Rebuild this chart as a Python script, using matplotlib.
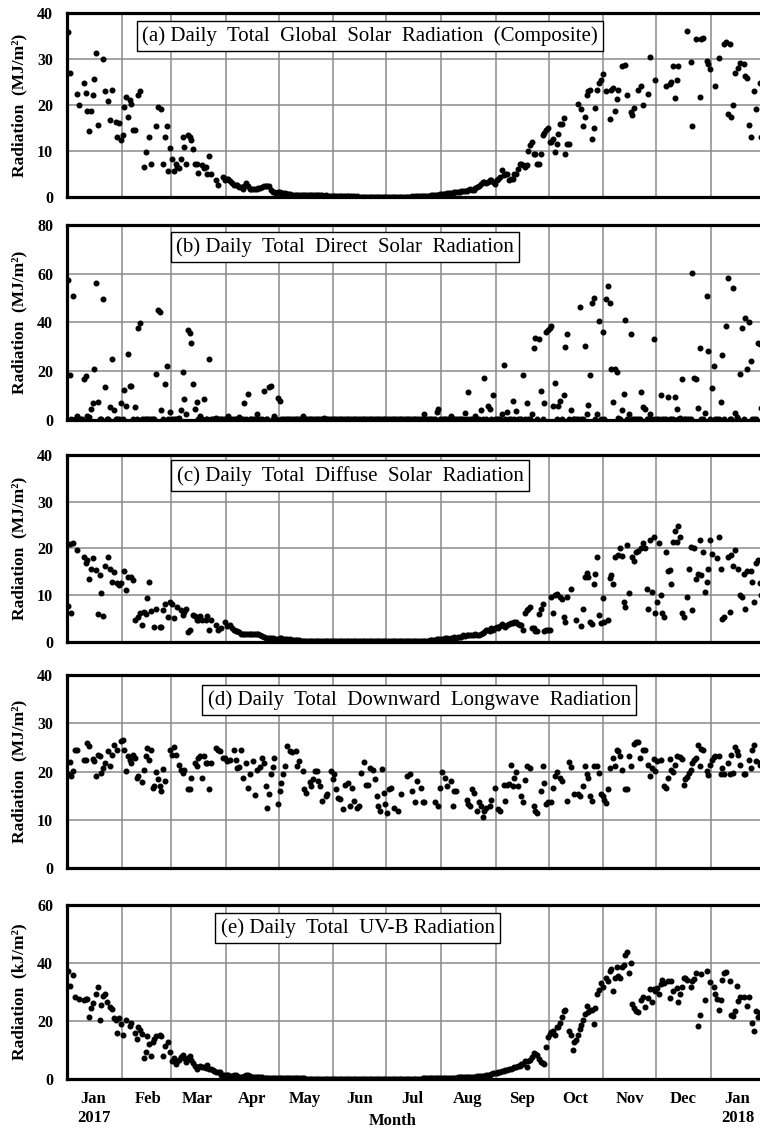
import numpy as np
import pandas as pd
import matplotlib
matplotlib.use("Agg")
import matplotlib.pyplot as plt
import matplotlib.dates as mdates
from matplotlib.ticker import FuncFormatter, MultipleLocator, NullFormatter

nan = np.nan
start_day = "2017-01-01"

# daily totals from 1 Jan 2017, one row (or two) per month; nan = no reading

# (a) global solar radiation, MJ/m2
global_rad = [
    35.9, 27.0, nan, nan, nan, 22.3, 20.0, nan, nan, 24.8, 22.6, 18.8, 14.3, 18.8, 22.1, 25.6,
    31.4, 15.7, nan, nan, 29.9, 23.0, nan, 20.8, 16.7, 23.2, nan, 16.3, 13.0, 16.1, 12.3,
    13.4, 19.6, 21.7, 17.5, 21.0, 20.3, 14.6, 14.6, nan, 22.1, 23.0, nan, 6.5, 9.8,
    nan, 13.0, 7.1, nan, nan, 15.4, 19.6, nan, 19.1, 7.2, 13.0, 15.4, 5.6, 10.7,
    8.3, 5.6, 7.1, 6.5, 6.2, 8.3, 13.0, 10.9, 7.2, 13.4, 13.0, 12.5, 10.5, 7.2, 7.2, 5.2,
    nan, 6.9, 6.2, 6.5, 5.0, 9.0, 5.0, nan, nan, 3.6, 2.7, nan, nan, 4.3, 3.6,
    4.0, 4.0, 3.4, 3.0, 2.7, 2.7, 2.7, 2.2, 2.2, 1.8, 2.5, 3.0, 2.4, 1.8, 1.8,
    1.8, 1.8, 1.7, 2.0, 1.9, 2.1, 2.3, 2.3, 2.3, 2.3, 1.5, 1.1, 1.0, 0.9, 1.1,
    1.1, 0.9, 0.8, 0.9, 0.7, 0.6, 0.6, 0.5, 0.5, 0.5, 0.5, 0.4, 0.5, 0.5, 0.5, 0.4,
    0.5, 0.5, 0.4, 0.4, 0.5, 0.4, 0.4, 0.4, 0.4, 0.3, 0.4, 0.3, 0.3, 0.3, 0.3,
    0.3, 0.3, 0.3, 0.2, 0.3, 0.2, 0.2, 0.2, 0.2, 0.2, 0.2, 0.2, 0.1, 0.2, 0.1,
    0.1, 0.1, 0.1, 0.1, 0.1, 0.1, 0.1, 0.1, 0.1, 0.1, 0.1, 0.1, 0.1, 0.1, 0.1,
    0.1, 0.1, 0.1, 0.1, 0.1, 0.1, 0.1, 0.1, 0.1, 0.1, 0.1, 0.1, 0.1, 0.1, 0.2, 0.1,
    0.2, 0.2, 0.2, 0.2, 0.3, 0.2, 0.3, 0.3, 0.3, 0.4, 0.4, 0.4, 0.5, 0.5, 0.6,
    0.6, 0.7, 0.7, 0.8, 0.8, 0.9, 0.9, 1.0, 1.0, 1.1, 1.1, 1.2, 1.3, 1.3, 1.4, 1.6,
    1.8, 1.6, 1.6, 2.0, 2.2, 2.5, 2.8, 3.3, 3.3, 3.0, 3.2, 3.6, 3.6, 3.3, 2.9,
    3.6, 4.0, 4.3, 5.8, 4.7, 5.1, 5.1, 3.6, 4.0, 4.0, 5.1, 5.1, 6.0, 7.2, 7.2,
    6.9, 6.5, 7.0, 10.0, 11.2, 12.0, 9.4, 9.4, 7.2, 7.2, 9.4, 13.4, 13.9, 14.5, 14.9,
    12.0, 12.0, 12.7, 9.8, 11.6, 13.6, 15.9, 15.9, 17.2, 9.4, 11.6, 11.6, nan, nan, nan, nan,
    20.3, nan, 19.2, 15.4, 17.5, 22.2, 23.0, 23.2, 12.7, 15.1, 19.3, 23.3, 24.8, 25.5, 26.7,
    nan, 23.0, nan, 17.0, 23.3, 23.6, 18.8, 21.2, 23.2, nan, 28.4, nan, 28.6, 22.1, nan,
    18.5, 17.8, 19.4, nan, 23.2, nan, 24.1, 19.9, nan, nan, 22.3, 30.4, nan, nan, 25.4,
    nan, nan, nan, nan, nan, 24.1, nan, 24.6, 25.0, 28.4, 21.5, 25.4, 28.4, nan, nan, nan,
    nan, 36.1, nan, 29.3, 15.4, nan, 34.4, nan, 21.7, 34.4, 34.6, nan, 29.6, 29.0, 27.9,
    nan, nan, 24.1, nan, 30.3, nan, nan, 33.3, 33.7, 18.1, 33.2, 17.5, 19.9, 27.0, nan, 28.1,
    29.1, nan, 29.0, 26.2, 25.9, 15.6, 13.0, nan, 23.0, 19.2, nan, 24.8, 13.0, nan, nan,
]

# (b) direct solar radiation, MJ/m2
direct_rad = [
    57.4, 18.6, 0.5, 51.0, 0.5, 1.6, 0.5, 0.3, 0.5, 17.0, 18.0, 1.6, 1.2, 4.5, 6.8, 20.8,
    56.2, 7.2, 0.5, 0.3, 49.7, 13.6, 0.5, 0.3, 5.2, 24.8, 4.0, 0.3, 0.5, 0.3, 6.8,
    0.3, 12.2, 5.7, 26.9, 13.9, 14.0, 0.4, 5.4, 0.3, 37.8, 39.9, 0.3, 0.2, 0.3,
    0.3, 0.2, 0.3, 0.3, 0.2, 19.0, 45.3, 44.2, 4.0, 0.3, 14.7, 22.0, 0.5, 3.4,
    0.5, 0.3, 0.5, 0.3, 1.0, 4.0, 19.7, 8.4, 2.4, 36.7, 35.6, 31.6, 14.7, 4.5, 7.3, 0.5,
    1.6, 0.3, 8.4, 0.3, 0.3, 24.8, 0.3, 0.2, 0.3, 0.7, 0.3, 0.2, 0.3, 0.2, 0.3,
    0.3, 1.6, 0.3, 0.2, 0.3, 0.2, 0.3, 1.4, 0.3, 0.2, 6.8, 0.3, 10.6, 0.2, 0.3,
    0.2, 0.3, 2.4, 0.3, 0.2, 0.2, 11.8, 0.3, 0.2, 13.6, 14.0, 0.3, 1.6, 0.3, 8.8,
    7.9, 0.3, 0.2, 0.3, 0.2, 0.3, 0.2, 0.2, 0.3, 0.2, 0.2, 0.3, 0.2, 1.6, 0.2, 0.3,
    0.2, 0.2, 0.3, 0.2, 0.2, 0.3, 0.2, 0.2, 0.3, 0.8, 0.2, 0.2, 0.3, 0.2, 0.2,
    0.2, 0.3, 0.2, 0.2, 0.3, 0.2, 0.2, 0.3, 0.2, 0.2, 0.3, 0.2, 0.2, 0.3, 0.2,
    0.2, 0.3, 0.2, 0.2, 0.3, 0.2, 0.2, 0.3, 0.2, 0.2, 0.3, 0.2, 0.2, 0.3, 0.2,
    0.2, 0.3, 0.2, 0.2, 0.3, 0.2, 0.2, 0.3, 0.2, 0.2, 0.3, 0.2, 0.2, 0.3, 0.2, 0.2,
    0.3, 0.2, 0.2, 0.3, 0.2, 2.3, 0.3, 0.2, 0.3, 0.2, 0.5, 0.3, 3.4, 4.4, 0.3,
    0.3, 0.5, 0.3, 0.2, 0.5, 1.6, 0.3, 0.5, 0.3, 0.2, 0.5, 0.3, 0.5, 3.0, 0.3, 11.3,
    0.5, 0.3, 0.5, 1.8, 0.3, 0.5, 4.1, 0.3, 17.4, 0.5, 5.9, 4.5, 0.3, 10.2, 0.5,
    0.3, 0.5, 0.3, 2.4, 22.4, 0.5, 3.1, 0.3, 0.5, 7.9, 0.3, 3.5, 0.3, 0.5, 0.3,
    18.6, 0.3, 6.8, 0.3, 0.5, 2.3, 29.5, 33.7, 0.3, 33.3, 11.8, 0.3, 6.8, 36.0, 36.7,
    37.7, 38.5, 5.7, 15.2, 0.5, 5.9, 7.9, 0.3, 10.2, 29.9, 35.4, 0.3, 4.1, 0.3, 0.5, 0.3,
    0.3, 46.3, 0.5, 0.3, 30.3, 2.4, 6.1, 18.6, 47.9, 50.1, 0.3, 2.4, 40.5, 0.5, 36.0,
    0.3, 49.7, 55.1, 47.9, 21.1, 7.2, 20.7, 19.7, 0.7, 0.5, 4.1, 10.6, 41.1, 0.3, 2.4,
    35.4, 0.3, 0.5, 0.3, 0.3, 0.5, 11.3, 5.2, 4.5, 0.3, 0.5, 2.4, 0.3, 33.3, 0.3,
    0.5, 0.3, 10.2, 0.3, 0.5, 0.3, 9.5, 0.3, 0.5, 0.3, 9.5, 4.4, 0.3, 0.7, 17.0, 0.3,
    0.5, 0.3, 0.3, 0.5, 60.3, 17.3, 17.0, 5.0, 29.5, 0.3, 0.5, 3.0, 50.7, 28.2, 0.3,
    12.9, 22.0, 0.3, 0.5, 0.3, 7.2, 26.5, 0.3, 38.4, 58.1, 0.3, 0.5, 54.1, 3.0, 1.4, 0.3,
    19.0, 37.8, 0.3, 41.9, 20.7, 40.1, 24.2, 0.3, 0.5, 0.3, 31.6, 31.0, 5.0, 0.3, 0.5,
]

# (c) diffuse solar radiation, MJ/m2
diffuse_rad = [
    7.6, 20.9, 6.3, 21.1, nan, 19.6, nan, nan, nan, 18.2, 16.9, 17.5, 13.4, 15.7, 17.9, nan,
    15.5, 5.9, 14.3, 10.4, 5.5, 16.2, nan, 18.1, 15.7, 12.9, 15.0, nan, 12.6, 12.1, 12.6,
    nan, 15.2, 11.1, 13.9, nan, 13.9, 13.2, 4.6, nan, 5.4, 6.1, 3.7, 6.4, 5.9,
    9.3, 12.9, 6.6, nan, 3.1, 7.1, nan, 3.1, 3.1, 6.8, 8.2, nan, 5.4, 8.6,
    8.2, 5.2, nan, 7.5, nan, 6.8, 5.7, 6.4, 7.1, 2.1, 2.5, nan, 5.7, 5.5, 4.8, 4.6,
    5.5, 4.8, nan, 4.6, 5.5, 2.5, 4.6, nan, nan, 3.6, 2.5, nan, 2.9, nan, 4.3,
    3.4, nan, 3.6, 3.0, 2.6, 2.4, 2.4, 2.1, 1.8, 1.8, 1.8, 1.7, 1.8, 1.7, 1.6,
    1.8, 1.7, 1.6, 1.8, 1.5, 1.2, 1.0, 0.9, 0.9, 0.8, 0.8, 0.8, 0.7, 0.7, 0.7,
    0.9, 0.8, 0.7, 0.6, 0.6, 0.5, 0.6, 0.5, 0.4, 0.5, 0.4, 0.4, 0.3, 0.3, 0.3, 0.3,
    0.2, 0.2, 0.2, 0.2, 0.2, 0.2, 0.2, 0.2, 0.2, 0.1, 0.1, 0.1, 0.1, 0.1, 0.1,
    0.1, 0.1, 0.1, 0.1, 0.1, 0.1, 0.1, 0.1, 0.1, 0.1, 0.1, 0.1, 0.1, 0.1, 0.1,
    0.1, 0.1, 0.1, 0.1, 0.1, 0.1, 0.1, 0.1, 0.1, 0.1, 0.1, 0.1, 0.1, 0.1, 0.1,
    0.1, 0.1, 0.1, 0.1, 0.1, 0.1, 0.1, 0.1, 0.1, 0.1, 0.1, 0.1, 0.1, 0.1, 0.1, 0.1,
    0.1, 0.1, 0.1, 0.1, 0.2, 0.2, 0.3, 0.3, 0.4, 0.4, 0.5, 0.5, 0.6, 0.7, 0.7,
    0.7, 0.7, 0.8, 0.8, 0.7, 0.9, 0.8, 1.0, 0.9, 1.0, 1.1, 1.0, 1.4, 1.3, 1.4, 1.5,
    1.4, 1.5, 1.4, 1.6, 1.5, 1.4, 1.8, 2.0, 2.2, 2.5, 2.5, 2.4, 2.9, 2.6, 3.0,
    3.2, 3.0, 3.5, 3.8, 3.5, 3.2, 3.6, 3.9, 4.0, 4.1, 4.2, 4.3, 3.8, 3.6, 3.6,
    2.5, 6.1, 6.8, 7.0, 7.5, 2.9, 2.9, 2.4, 2.4, 5.9, 7.1, 8.2, 2.4, 2.5, 2.5,
    2.5, 9.6, 6.1, 10.0, 10.2, nan, 9.6, 9.1, 5.4, 4.3, 9.6, nan, 11.4, nan, nan, 4.6,
    nan, nan, 3.4, 7.1, 13.9, 14.8, 13.9, 4.3, 3.8, 12.5, 14.6, 18.2, 5.7, 4.1, 9.3,
    4.3, nan, 4.6, 13.6, 14.3, 12.4, 18.2, nan, 18.6, 20.0, 18.4, 8.6, 7.5, 20.7, 10.4,
    nan, 18.2, 17.4, 19.3, 19.5, nan, 20.0, 21.1, 20.0, 11.4, 7.1, 21.9, 10.7, 22.5, 6.2,
    8.6, 21.1, 10.0, 6.1, 5.4, 19.3, 15.2, 15.5, 12.4, 21.4, 23.8, 21.4, 24.9, 22.5, 6.1, 5.4,
    nan, 9.6, 15.7, 20.4, 6.9, 20.0, 13.4, 14.6, 21.8, 14.3, 19.3, 10.7, 12.9, 15.7, 21.8,
    18.9, nan, nan, 17.9, 22.4, 15.6, 5.0, 5.4, nan, 18.2, 6.4, 18.6, 16.2, 19.6, nan, 15.7,
    10.0, 9.6, 14.6, 7.1, 15.1, nan, 15.2, 12.9, 8.6, 16.8, 17.5, 12.7, 10.0, 13.0, 12.0,
]

# (d) downward longwave radiation, MJ/m2
longwave_rad = [
    19.4, 21.9, 19.0, 20.2, 24.5, 24.4, nan, nan, nan, 22.5, 22.5, 26.0, 25.3, nan, 22.6, 22.1,
    19.0, 23.5, 23.3, 19.7, 20.8, 21.8, nan, 24.2, 21.1, 23.4, 25.5, nan, 24.4, nan, 26.4,
    26.6, 24.5, 20.2, 23.2, 22.5, 21.8, 23.5, 22.8, 18.7, 19.0, nan, 17.8, 20.3, 23.3,
    24.9, 22.5, 24.5, 16.6, 17.1, 19.9, 18.4, 17.0, 16.0, 20.5, 18.0, nan, nan, 24.5,
    23.5, 25.1, 23.5, nan, 21.4, 20.4, 19.7, 20.4, nan, 16.3, 16.4, 18.7, nan, 21.8, 21.1, 22.8,
    23.2, 18.7, 23.2, 21.8, 21.8, 16.3, 21.8, nan, nan, 24.9, 24.4, 24.2, nan, 22.8, 22.8,
    22.1, nan, 22.3, nan, 24.4, 22.5, 20.8, 21.0, 24.5, 18.7, nan, 21.8, 16.6, 19.4, nan,
    22.1, 15.1, 20.4, nan, 21.0, 22.8, 21.8, 17.1, 12.5, 15.3, 19.4, 21.0, 22.8, nan, 13.2,
    16.0, 17.7, 19.4, 21.2, 25.3, nan, 24.2, 24.0, nan, 24.2, 21.2, 22.1, nan, 20.1, 16.3, 15.6,
    nan, 17.8, 17.1, 18.5, 20.1, 20.1, 18.0, 17.0, 13.9, nan, 14.9, 15.3, nan, 20.1, 18.4,
    19.4, 16.3, 14.6, 14.4, nan, 12.2, 17.3, nan, 17.7, 12.9, 16.6, 13.9, nan, 12.5, 12.9,
    19.7, nan, 21.9, 17.3, 17.3, 20.8, nan, 20.4, 18.4, 14.9, 12.9, 11.8, 20.5, 15.6, 13.2,
    11.5, 16.3, 16.6, nan, 12.5, nan, 11.8, nan, 15.3, nan, nan, 19.0, nan, 19.4, 16.0, nan,
    13.6, 18.0, nan, 16.6, 13.6, 13.7, nan, nan, nan, nan, nan, 13.7, nan, 12.9, 16.6,
    19.9, nan, 18.7, 17.0, nan, 18.0, 12.9, 16.0, 16.0, nan, nan, nan, nan, nan, 14.2, 13.2,
    12.9, 16.3, 15.6, nan, 11.8, 13.6, 12.9, 10.5, 11.8, 12.5, nan, 12.9, 14.2, nan, 16.6,
    nan, 12.2, 11.8, nan, 17.3, 13.9, 17.3, 17.5, 21.4, 17.1, 18.7, 19.9, 17.1, nan, 14.9,
    13.7, 18.2, 21.1, nan, 20.8, nan, 12.9, 11.8, 11.4, nan, 16.0, 21.1, 17.7, 13.2, 13.6,
    nan, 13.6, 16.6, 19.0, 19.9, nan, 18.7, 18.0, nan, nan, 13.9, 21.9, 21.0, nan, 15.4, nan,
    15.4, 14.9, nan, 17.0, 21.2, 19.4, 18.7, 14.9, 13.9, 21.1, nan, 21.2, 19.7, 15.3, 14.9,
    14.2, 13.4, 16.4, 20.8, nan, 22.8, 21.2, 24.5, 24.2, 23.2, 20.4, nan, 16.4, 16.4, 23.2,
    21.2, nan, 25.8, 26.2, 26.2, 22.8, nan, 24.4, 24.5, nan, 21.4, 19.0, 20.8, 22.6, 20.1,
    22.1, nan, 22.5, nan, 17.1, 16.6, 18.7, 22.6, 20.4, 19.9, 21.4, 23.2, nan, 23.0, 22.6, 17.3,
    18.4, 18.9, 19.7, 20.4, 21.8, 22.5, 22.8, 25.5, 21.2, 24.7, 24.4, nan, 20.1, 19.2, 21.4,
    22.5, 23.0, 23.2, nan, 23.2, 19.4, 20.8, 19.4, nan, 21.8, 19.4, 23.5, 19.7, 25.1, 24.2, 23.5,
    21.4, nan, 19.4, 19.4, nan, 22.5, 20.8, 24.4, 25.5, 22.1, nan, 21.4, 22.0, 21.0, 21.5,
]

# (e) UV-B radiation, kJ/m2
uvb_rad = [
    37.2, 32.2, nan, 35.9, 28.4, nan, 27.5, nan, nan, 27.3, 27.6, 27.5, 21.3, 24.4, 26.3, nan,
    29.3, 31.6, 20.4, 25.5, 28.6, 29.3, 26.7, nan, 24.7, 24.1, 21.0, 20.4, 16.0, 21.0, 19.0,
    15.2, nan, 20.4, nan, 18.3, 19.2, nan, 16.0, 13.7, 17.9, 17.0, 15.6, 7.2, 9.2,
    14.9, 12.1, 8.0, 12.6, 13.7, 14.7, nan, 15.2, 14.7, 8.0, 11.5, nan, 12.6, 9.2,
    6.1, 7.2, 5.3, 6.1, 6.6, 7.5, 8.4, 7.2, 5.7, 7.2, 8.0, 6.4, 5.5, 4.6, 3.4, 4.0,
    4.6, 4.3, 4.1, 3.8, 4.9, 3.4, 3.3, 3.2, 2.8, 2.3, 2.3, 2.3, 1.5, 1.5, 1.5,
    1.5, 1.2, 0.9, 1.0, 1.2, 1.5, 1.0, 0.8, 0.7, 0.8, 1.0, 1.2, 1.5, 1.0, 0.7,
    0.6, 0.6, 0.6, 0.6, 0.6, 0.6, 0.5, 0.5, 0.5, 0.5, 0.5, 0.4, 0.4, 0.3, 0.3,
    0.3, 0.3, 0.3, 0.3, 0.3, 0.2, 0.2, 0.2, 0.2, 0.2, 0.2, 0.2, 0.2, 0.2, 0.2, 0.1,
    0.1, 0.1, 0.1, 0.1, 0.1, 0.1, 0.1, 0.1, 0.1, 0.1, 0.1, 0.1, 0.1, 0.1, 0.1,
    0.1, 0.1, 0.1, 0.1, 0.1, 0.1, 0.1, 0.1, 0.1, 0.1, 0.1, 0.1, 0.1, 0.1, 0.1,
    0.1, 0.1, 0.1, 0.1, 0.1, 0.1, 0.1, 0.1, 0.1, 0.1, 0.1, 0.1, 0.1, 0.1, 0.1,
    0.1, 0.1, 0.1, 0.1, 0.1, 0.1, 0.1, 0.1, 0.1, 0.1, 0.1, 0.1, 0.1, 0.1, 0.1, 0.1,
    0.1, 0.1, 0.1, 0.1, 0.2, 0.2, 0.2, 0.2, 0.2, 0.2, 0.3, 0.3, 0.3, 0.3, 0.3,
    0.3, 0.3, 0.4, 0.4, 0.4, 0.5, 0.5, 0.5, 0.5, 0.6, 0.6, 0.6, 0.6, 0.6, 0.7, 0.7,
    0.7, 0.8, 0.8, 0.8, 0.9, 0.9, 1.0, 1.0, 1.1, 1.2, 1.5, 1.5, 1.7, 2.0, 2.0,
    2.1, 2.3, 2.3, 2.6, 2.9, 3.0, 3.2, 3.4, 3.6, 3.8, 4.0, 4.2, 4.4, 4.6, 5.0,
    5.2, 6.1, 4.0, 6.3, 6.6, 7.5, 8.9, 8.7, 8.4, 6.9, 6.0, 5.4, 5.2, 10.9, 14.4,
    15.5, 16.1, 16.7, 15.3, 17.8, 17.8, 19.2, 21.5, 23.6, 23.8, nan, 16.7, 15.3, 10.0, 12.6, 13.4,
    15.0, 17.2, 18.5, 20.3, 22.4, 25.3, 23.0, 23.8, 23.8, 19.0, 24.5, 29.3, 30.7, 33.0, 31.6,
    nan, 34.8, 33.9, 37.4, 37.9, 30.5, 34.8, 38.7, 35.6, 34.8, 38.5, 39.4, 42.9, 43.7, 36.4,
    39.9, 25.9, 24.5, 23.3, 23.0, nan, 27.2, 28.4, 24.9, nan, 27.9, 31.0, 26.4, 31.0, 30.5,
    31.4, 29.3, 32.8, 34.1, 33.0, nan, 33.9, 27.9, 33.7, 30.5, nan, 31.4, 26.4, 29.3, 31.6, 34.8,
    34.8, 34.1, nan, 31.6, 33.9, 34.5, 36.4, 18.4, 22.2, 36.2, nan, 27.2, 37.4, nan, 33.3,
    nan, 31.6, 29.3, 27.6, 23.8, 27.2, 34.1, 36.4, 36.8, nan, 33.7, 22.2, 21.8, 23.3, 32.2, 27.0,
    28.2, nan, 28.2, nan, 25.3, 28.2, nan, 19.2, 16.4, 23.3, 21.5, 22.4, 23.0, nan, nan,
]

titles = [
    "(a) Daily  Total  Global  Solar  Radiation  (Composite)",
    "(b) Daily  Total  Direct  Solar  Radiation",
    "(c) Daily  Total  Diffuse  Solar  Radiation",
    "(d) Daily  Total  Downward  Longwave  Radiation",
    "(e) Daily  Total  UV-B Radiation",
]
units = ["MJ/m²", "MJ/m²", "MJ/m²", "MJ/m²", "kJ/m²"]
y_tops = [40, 80, 40, 40, 60]
y_steps = [10, 20, 10, 10, 20]

series = [global_rad, direct_rad, diffuse_rad, longwave_rad, uvb_rad]

plt.rcParams["font.family"] = ["Liberation Serif", "DejaVu Serif"]
plt.rcParams["font.weight"] = "bold"
plt.rcParams["axes.labelweight"] = "bold"

fig = plt.figure(figsize=(7.6, 11.31), dpi=100)

# panel rectangles in figure fractions; the right edge runs a little past the figure
left, width = 0.0882, 0.9193
rects = [
    (left, 0.8258, width, 0.1627),
    (left, 0.6287, width, 0.1724),
    (left, 0.4324, width, 0.1653),
    (left, 0.2325, width, 0.1706),
    (left, 0.0460, width, 0.1538),
]
box_xy = [(0.434, 0.875), (0.398, 0.885), (0.405, 0.890), (0.504, 0.870), (0.416, 0.868)]


def month_label(x, pos):
    d = mdates.num2date(x)
    if d.month == 1:
        return d.strftime("%b\n%Y")
    return d.strftime("%b")


for i, vals in enumerate(series):
    ax = fig.add_axes(rects[i])
    days = pd.date_range(start_day, periods=len(vals), freq="D") + pd.Timedelta(hours=12)
    ax.plot(days, vals, "o", color="black", ms=3.3, zorder=3)

    ax.set_xlim(pd.Timestamp("2017-01-01"), pd.Timestamp("2018-02-01"))
    ax.set_ylim(0, y_tops[i])
    ax.yaxis.set_major_locator(MultipleLocator(y_steps[i]))

    ax.xaxis.set_major_locator(mdates.MonthLocator())
    ax.xaxis.set_major_formatter(NullFormatter())
    ax.xaxis.set_minor_locator(mdates.MonthLocator(bymonthday=16))
    if i == len(series) - 1:
        ax.xaxis.set_minor_formatter(FuncFormatter(month_label))
    else:
        ax.xaxis.set_minor_formatter(NullFormatter())

    ax.grid(True, which="major", color="#8a8a8a", lw=1.1)
    ax.set_axisbelow(True)
    ax.tick_params(which="both", length=0)
    ax.tick_params(axis="y", labelsize=11.5, pad=10)
    ax.tick_params(axis="x", which="minor", labelsize=12, pad=9)
    for sp in ax.spines.values():
        sp.set_linewidth(2.3)

    ax.set_ylabel("Radiation  (" + units[i] + ")", fontsize=12.5)
    ax.yaxis.set_label_coords(-0.057, 0.5)

    ax.text(box_xy[i][0], box_xy[i][1], titles[i], transform=ax.transAxes,
            ha="center", va="center", fontsize=15, fontweight="normal",
            bbox=dict(boxstyle="square,pad=0.25", fc="white", ec="black", lw=1.0),
            zorder=5)

fig.text(0.517, 1 - 1121 / 1131, "Month", ha="center", va="center", fontsize=12)

fig.savefig("out.png", dpi=100)
